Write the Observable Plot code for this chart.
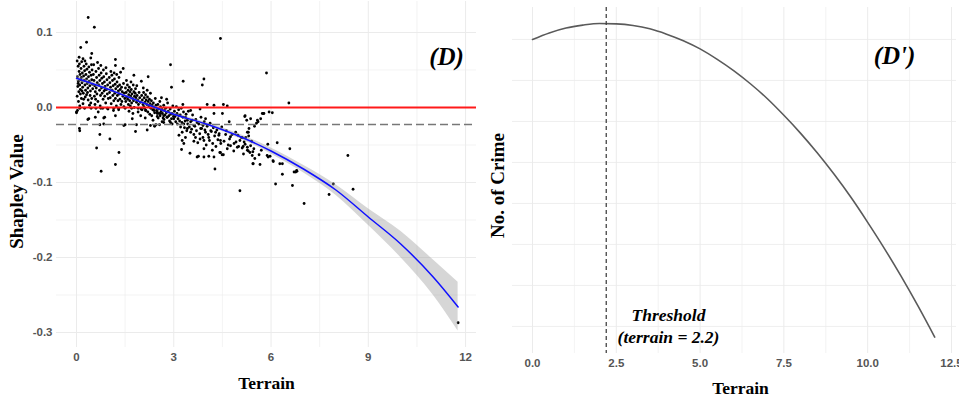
<!DOCTYPE html>
<html><head><meta charset="utf-8">
<script src="https://cdn.jsdelivr.net/npm/d3@7"></script>
<script src="https://cdn.jsdelivr.net/npm/@observablehq/plot@0.6"></script>
<style>
html,body{margin:0;padding:0;background:#fff;}
#wrap{display:flex;width:959px;height:403px;overflow:hidden;}
#wrap svg{display:block;flex:none;}
</style></head><body><div id="wrap"></div>
<script>
// ---------- Panel (D): SHAP scatter ----------
const scatter = [
[0.36,0.120],[0.55,0.107],[0.31,0.087],[0.13,0.080],[0.47,0.072],[0.44,0.066],[4.44,0.092],[5.86,0.046],[6.55,0.006],[2.90,0.057],[3.29,0.035],[3.93,0.038],[3.88,0.030],[2.93,0.027],[1.20,0.064],[1.20,0.056],[1.44,0.052],[1.77,0.043],[2.21,0.041],[2.00,0.035],[0.10,-0.031],[0.62,-0.054],[0.76,-0.085],[1.20,-0.076],[1.31,-0.060],[1.03,-0.042],[0.72,-0.036],[0.84,-0.014],[0.00,-0.007],[0.35,-0.016],[1.82,-0.032],[2.18,-0.030],[2.41,-0.025],[3.24,-0.056],[3.50,-0.061],[3.76,-0.065],[3.93,-0.066],[4.08,-0.065],[4.27,-0.082],[4.44,-0.060],[4.49,-0.063],[5.04,-0.111],[5.44,-0.075],[5.66,-0.076],[5.20,-0.011],[5.25,-0.017],[5.58,-0.017],[5.68,-0.015],[6.04,-0.007],[5.78,-0.008],[5.32,-0.028],[5.30,-0.033],[5.90,-0.049],[6.19,-0.047],[6.58,-0.055],[5.97,-0.065],[6.07,-0.072],[6.35,-0.075],[6.35,-0.089],[6.14,-0.102],[6.66,-0.104],[6.76,-0.086],[6.80,-0.085],[8.37,-0.064],[7.92,-0.102],[7.79,-0.116],[8.53,-0.109],[7.02,-0.128],[11.77,-0.287],
[3.28,0.004],[3.52,-0.004],[3.81,-0.002],[4.03,0.004],[4.24,0.003],[4.24,-0.008],[4.50,-0.008],[4.53,0.004],[4.65,0.002],[5.37,-0.015],[5.73,-0.008],[5.94,-0.006],[5.60,-0.019],[5.55,-0.021],[4.71,-0.019],[3.98,-0.015],[3.62,-0.024],[3.90,-0.024],[4.14,-0.031],[4.29,-0.033],[4.39,-0.037],[4.44,-0.044],[4.60,-0.036],[4.75,-0.039],[4.91,-0.033],[4.98,-0.037],[5.04,-0.044],[5.27,-0.033],[5.22,-0.040],[4.86,-0.048],[4.75,-0.051],[4.65,-0.055],[4.96,-0.053],[5.11,-0.054],[5.27,-0.057],[5.37,-0.051],[5.47,-0.055],[5.42,-0.064],[5.63,-0.063],[4.42,-0.060],[4.53,-0.063],[4.19,-0.057],[3.93,-0.055],[3.72,-0.066],[3.31,-0.048],[3.62,-0.045],[3.67,-0.040],[3.81,-0.042],[3.93,-0.044],[4.08,-0.040],[4.24,-0.066],[5.88,-0.064],[5.45,-0.075],[3.52,-0.033],[3.42,-0.028],[3.31,-0.022],[3.21,-0.026],[3.11,-0.022],[3.00,-0.015],[2.90,-0.020],[2.80,-0.013],[2.69,-0.011],[2.59,-0.008],[2.49,-0.006],[2.39,-0.004],[2.41,-0.024],[2.69,-0.020],[2.95,-0.008],[3.16,-0.011],[3.36,-0.013],[3.42,-0.017],[3.57,-0.017],[3.72,-0.020],[3.83,-0.028],[3.98,-0.033],[3.26,-0.033],[3.16,-0.037],[3.36,-0.040],[3.26,-0.044],
[5.19,-0.012],[5.11,-0.040],[5.17,-0.046],[5.27,-0.053],[5.14,-0.052],[5.35,-0.060],[5.44,-0.059],[5.31,-0.038],[5.49,-0.025],[5.76,-0.008],[5.70,-0.057],[5.91,-0.066],[6.06,-0.071],[6.27,-0.075],[6.71,-0.086],[6.79,-0.084],
[0.02,0.062],[0.05,0.055],[0.08,0.048],[0.03,0.041],[0.06,0.035],[0.04,0.028],[0.07,0.021],[0.02,0.015],[0.09,0.058],[0.11,0.044],[0.13,0.037],[0.10,0.030],[0.12,0.024],[0.14,0.052],[0.16,0.061],[0.18,0.046],[0.15,0.040],[0.17,0.033],[0.19,0.027],[0.21,0.019],[0.23,0.055],[0.25,0.049],[0.22,0.042],[0.24,0.036],[0.26,0.030],[0.28,0.023],[0.27,0.014],[0.30,0.058],[0.32,0.051],[0.29,0.044],[0.31,0.038],[0.33,0.032],[0.35,0.026],[0.34,0.020],[0.36,0.010],[0.38,0.054],[0.40,0.047],[0.37,0.041],[0.39,0.035],[0.41,0.029],[0.43,0.022],[0.42,0.016],[0.44,0.006],[0.46,0.057],[0.48,0.050],[0.45,0.043],[0.47,0.037],[0.49,0.031],[0.50,0.025],[0.06,0.008],[0.10,0.002],[0.15,0.012],[0.20,0.005],[0.03,-0.004],[0.12,0.018],[0.08,0.067],[0.20,0.065],[0.26,0.062],[0.05,0.032],[0.17,0.022],[0.22,0.011],[0.31,0.017],[0.40,0.003],[0.47,0.012],
[0.52,0.044],[0.54,0.036],[0.56,0.029],[0.58,0.021],[0.55,0.015],[0.60,0.048],[0.62,0.040],[0.64,0.033],[0.61,0.026],[0.63,0.018],[0.66,0.008],[0.68,0.052],[0.70,0.043],[0.72,0.036],[0.69,0.030],[0.71,0.023],[0.74,0.016],[0.73,0.002],[0.76,0.046],[0.78,0.039],[0.80,0.032],[0.77,0.026],[0.79,0.019],[0.82,0.011],[0.84,0.041],[0.86,0.034],[0.88,0.028],[0.85,0.022],[0.87,0.015],[0.90,0.006],[0.92,0.045],[0.94,0.037],[0.96,0.030],[0.93,0.024],[0.95,0.018],[0.98,0.012],[0.97,-0.002],[0.53,0.057],[0.65,0.060],[0.75,0.056],[0.83,0.050],[0.91,0.053],[0.57,0.004],[0.67,-0.006],[0.81,-0.001],[0.89,0.024],[0.59,0.011],
[1.01,0.040],[1.03,0.033],[1.05,0.027],[1.02,0.020],[1.04,0.013],[1.07,0.005],[1.09,0.043],[1.11,0.036],[1.13,0.029],[1.10,0.023],[1.12,0.016],[1.15,0.009],[1.17,0.038],[1.19,0.031],[1.21,0.025],[1.18,0.019],[1.20,0.012],[1.23,0.002],[1.25,0.034],[1.27,0.028],[1.29,0.022],[1.26,0.016],[1.28,0.009],[1.31,0.040],[1.33,0.030],[1.35,0.024],[1.32,0.018],[1.34,0.011],[1.37,0.004],[1.39,0.027],[1.41,0.021],[1.43,0.015],[1.40,0.008],[1.45,0.032],[1.47,0.019],[1.49,0.012],[1.06,0.048],[1.16,0.046],[1.24,0.044],[1.36,0.047],[1.14,-0.004],[1.30,-0.003],[1.46,0.001],
[1.51,0.026],[1.53,0.020],[1.55,0.014],[1.52,0.008],[1.57,0.030],[1.59,0.023],[1.61,0.017],[1.58,0.011],[1.60,0.004],[1.63,0.027],[1.65,0.021],[1.67,0.015],[1.64,0.009],[1.66,0.002],[1.69,0.024],[1.71,0.018],[1.73,0.012],[1.70,0.006],[1.75,0.030],[1.77,0.021],[1.79,0.015],[1.76,0.009],[1.78,0.000],[1.81,0.019],[1.83,0.013],[1.85,0.007],[1.82,0.025],[1.87,0.016],[1.89,0.010],[1.91,0.004],[1.93,0.020],[1.95,0.013],[1.97,0.007],[1.99,-0.002],[1.54,0.036],[1.68,0.034],[1.86,0.029],[1.62,-0.005],[1.74,-0.008],[1.90,-0.006],
[2.01,0.016],[2.03,0.010],[2.05,0.004],[2.02,-0.003],[2.07,0.020],[2.09,0.013],[2.11,0.007],[2.08,0.001],[2.13,0.017],[2.15,0.010],[2.17,0.004],[2.14,-0.004],[2.19,0.014],[2.21,0.008],[2.23,0.002],[2.20,-0.006],[2.25,0.011],[2.27,0.005],[2.29,-0.001],[2.26,-0.009],[2.31,0.009],[2.33,0.003],[2.35,-0.003],[2.32,-0.011],[2.37,0.006],[2.39,0.000],[2.41,-0.007],[2.43,0.012],[2.45,0.003],[2.47,-0.004],[2.49,-0.012],[2.06,0.026],[2.18,0.023],[2.28,0.019],[2.12,-0.014],[2.36,-0.017],
[2.51,0.004],[2.53,-0.002],[2.55,-0.008],[2.52,-0.014],[2.57,0.008],[2.59,0.001],[2.61,-0.005],[2.58,-0.011],[2.63,-0.002],[2.65,-0.008],[2.67,-0.014],[2.64,-0.019],[2.69,0.003],[2.71,-0.004],[2.73,-0.010],[2.70,-0.016],[2.75,-0.001],[2.77,-0.007],[2.79,-0.013],[2.81,0.006],[2.83,-0.005],[2.85,-0.011],[2.87,-0.018],[2.89,-0.002],[2.91,-0.009],[2.93,-0.015],[2.95,-0.022],[2.97,0.002],[2.99,-0.012],[2.62,0.013],[2.78,0.011],[2.56,-0.023],
[3.02,-0.005],[3.04,-0.012],[3.06,-0.019],[3.08,0.001],[3.10,-0.008],[3.13,-0.015],[3.15,-0.003],[3.18,-0.018],[3.20,-0.010],[3.23,-0.001],[3.25,-0.020],[3.28,-0.013],[3.30,-0.006],[3.33,-0.027],[3.35,-0.018],[3.38,-0.009],[3.40,-0.031],[3.43,-0.022],[3.45,-0.005],[3.48,-0.026],
[3.52,-0.019],[3.55,-0.029],[3.58,-0.010],[3.62,-0.036],[3.65,-0.025],[3.68,-0.016],[3.70,-0.031],[3.74,-0.047],[3.77,-0.022],[3.80,-0.035],[3.84,-0.013],[3.86,-0.028],[3.90,-0.040],[3.94,-0.019],[3.96,-0.030],[4.00,-0.050],[4.03,-0.025],[4.06,-0.036],[4.10,-0.044],[4.12,-0.021],[4.16,-0.032],[4.20,-0.048],[4.22,-0.027],[4.26,-0.038],[4.30,-0.052],[4.33,-0.030],[4.36,-0.043],[4.40,-0.035],[4.45,-0.048],[4.48,-0.026],
[4.55,-0.045],[4.62,-0.031],[4.68,-0.050],[4.72,-0.042],[4.80,-0.036],[4.85,-0.058],[4.92,-0.046],[5.00,-0.052],[5.08,-0.040],[5.15,-0.062],[5.20,-0.049],[5.30,-0.058],[5.40,-0.045],[5.50,-0.068],
[0.10,-0.001],[0.25,-0.001],[0.45,-0.001],[0.60,-0.001],[0.75,-0.001],[0.95,-0.001],[1.15,-0.001],[1.30,-0.001],[1.50,-0.001],[1.70,-0.001],[1.90,-0.001],[2.10,-0.001],
[0.72,-0.023],[1.50,-0.023],[1.85,-0.023],[2.45,-0.023],
[0.00,-0.006],[0.38,-0.015],[0.58,-0.013],[0.87,-0.013],[1.20,-0.011],[1.72,-0.015],[1.98,-0.011],[2.13,-0.004],[2.28,-0.024],[2.49,-0.008],[0.09,-0.028],[0.84,-0.022],[1.46,-0.024]
];
const zeroLine = [0];
const meanLine = [-0.0227];
// smoothed fit with confidence band
const fitX    = [0.0, 1, 2, 3, 4, 5, 6, 7, 8, 9, 10, 11, 11.77];
const fitY    = [0.039, 0.024, 0.007, -0.009, -0.022, -0.038, -0.058, -0.082, -0.110, -0.146, -0.182, -0.226, -0.266];
const bandHigh= [0.043, 0.026, 0.009, -0.007, -0.020, -0.035, -0.054, -0.077, -0.103, -0.135, -0.165, -0.203, -0.233];
const bandLow = [0.035, 0.022, 0.005, -0.011, -0.024, -0.041, -0.062, -0.087, -0.117, -0.157, -0.200, -0.250, -0.298];
const xTicksL = [0, 3, 6, 9, 12];
const xMinorL = [1.5, 4.5, 7.5, 10.5];
const yTicksL = [0.1, 0.0, -0.1, -0.2, -0.3];
const yMinorL = [0.05, -0.05, -0.15, -0.25];

// ---------- Panel (D'): crime vs terrain ----------
const curveX = [0,0.5,1,1.5,2,2.5,3,3.5,4,4.5,5,5.5,6,6.5,7,7.5,8,8.5,9,9.5,10,10.5,11,11.5,12];
const curveY = [8.00,8.16,8.28,8.35,8.39,8.38,8.34,8.26,8.13,7.97,7.77,7.52,7.24,6.92,6.56,6.15,5.71,5.23,4.71,4.15,3.54,2.90,2.22,1.50,0.74];
const threshold = [2.2];
const xTicksR = [0, 2.5, 5, 7.5, 10, 12.5];
const xMinorR = [1.25, 3.75, 6.25, 8.75, 11.25];
const yGridR = [1, 2, 3, 4, 5, 6, 7, 8];

const fit = fitX.map((x, i) => ({x, y: fitY[i], lo: bandLow[i], hi: bandHigh[i]}));
const curve = curveX.map((x, i) => ({x, y: curveY[i]}));

const serif = "'Liberation Serif','Times New Roman',serif";
const sans = "'Liberation Sans',Arial,sans-serif";
const grid = {stroke: "#ebebeb", strokeOpacity: 1};
const tickStyle = {tickSize: 0, fontSize: 11.5, fontWeight: "bold", fill: "#555", label: null, fontFamily: sans};
const lbl = {text: d => d, textAnchor: "middle", lineAnchor: "middle", fontFamily: serif, fontWeight: "bold", fill: "#000"};

const left = Plot.plot({
  width: 480, height: 403,
  marginLeft: 56, marginRight: 4, marginTop: 1, marginBottom: 56,
  x: {domain: [-0.617, 12.337]},
  y: {domain: [-0.32, 0.1413]},
  style: {background: "#fff", fontFamily: sans, overflow: "visible"},
  marks: [
    Plot.gridX(xMinorL, {...grid, strokeWidth: 0.6}),
    Plot.gridY(yMinorL, {...grid, strokeWidth: 0.6}),
    Plot.gridX(xTicksL, {...grid, strokeWidth: 1}),
    Plot.gridY(yTicksL, {...grid, strokeWidth: 1}),
    Plot.axisX(xTicksL, {...tickStyle, tickPadding: 5, tickFormat: d => String(d)}),
    Plot.axisY(yTicksL, {...tickStyle, tickPadding: 4, tickFormat: d => d.toFixed(1)}),
    Plot.dot(scatter, {x: d => d[0], y: d => d[1], r: 1.4, fill: "#000", stroke: "none"}),
    Plot.ruleY(zeroLine, {stroke: "#ff1a1a", strokeWidth: 2}),
    Plot.ruleY(meanLine, {stroke: "#777", strokeWidth: 1.5, strokeDasharray: "8,4"}),
    Plot.areaY(fit, {x: "x", y1: "lo", y2: "hi", fill: "#999", fillOpacity: 0.4, curve: "monotone-x"}),
    Plot.line(fit, {x: "x", y: "y", stroke: "#1010ff", strokeWidth: 1.5, curve: "monotone-x"}),
    Plot.text(["(D)"], {...lbl, frameAnchor: "top-right", dx: -30, dy: 55, fontStyle: "italic", fontSize: 25}),
    Plot.text(["Terrain"], {...lbl, frameAnchor: "bottom", dy: 36, fontSize: 17.5}),
    Plot.text(["Shapley Value"], {...lbl, frameAnchor: "left", dx: -40, dy: 17, rotate: -90, fontSize: 19})
  ]
});

const right = Plot.plot({
  width: 479, height: 403,
  marginLeft: 32, marginRight: 3, marginTop: 7, marginBottom: 50,
  x: {domain: [-0.597, 12.65]},
  y: {domain: [0.34, 8.78], axis: null},
  style: {background: "#fff", fontFamily: sans, overflow: "visible"},
  marks: [
    Plot.gridX(xMinorR, {...grid, strokeWidth: 0.6}),
    Plot.gridX(xTicksR, {...grid, strokeWidth: 1}),
    Plot.gridY(yGridR, {...grid, strokeWidth: 0.8}),
    Plot.axisX(xTicksR, {...tickStyle, tickPadding: 5, tickFormat: d => d.toFixed(1)}),
    Plot.line(curve, {x: "x", y: "y", stroke: "#5a5a5a", strokeWidth: 1.6, curve: "monotone-x"}),
    Plot.ruleX(threshold, {stroke: "#444", strokeWidth: 1.3, strokeDasharray: "4,3"}),
    Plot.text(["(D')"], {...lbl, frameAnchor: "top-right", dx: -62, dy: 48, fontStyle: "italic", fontSize: 25}),
    Plot.text(["Threshold"], {...lbl, frameAnchor: "bottom-left", dx: 156, dy: -38, fontStyle: "italic", fontSize: 17.5}),
    Plot.text(["(terrain = 2.2)"], {...lbl, frameAnchor: "bottom-left", dx: 156, dy: -16, fontStyle: "italic", fontSize: 17.5}),
    Plot.text(["Terrain"], {...lbl, frameAnchor: "bottom", dx: 6, dy: 35, fontSize: 17.5}),
    Plot.text(["No. of Crime"], {...lbl, frameAnchor: "left", dx: -15, dy: 5, rotate: -90, fontSize: 19})
  ]
});

const wrap = document.getElementById("wrap");
wrap.appendChild(left);
wrap.appendChild(right);
</script></body></html>
